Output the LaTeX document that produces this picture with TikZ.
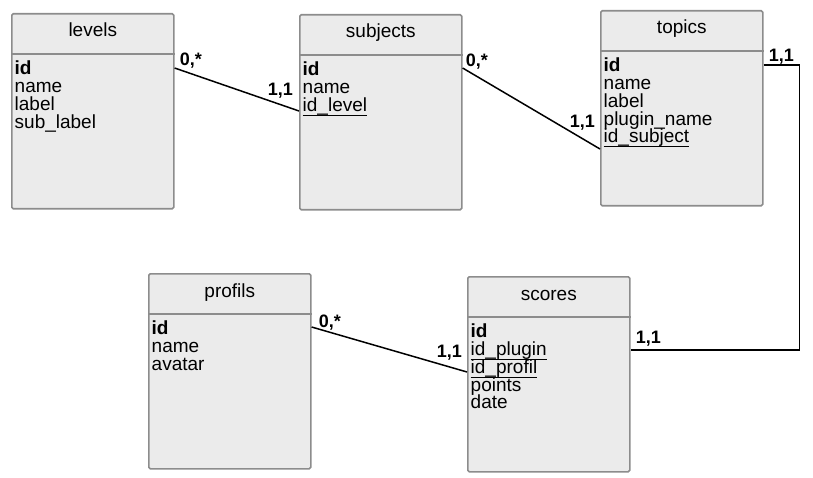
\documentclass[tikz,border=0pt]{standalone}
\usepackage{fontspec}
\setmainfont{Liberation Sans}
\usepackage{tikz}
\usetikzlibrary{calc}

\definecolor{boxfill}{HTML}{EBEBEB}
\definecolor{boxline}{HTML}{8C8C8C}

% underlined foreign key, rule just under the baseline
\newcommand{\fkey}[1]{\setbox0=\hbox{#1}\rlap{\rule[-4.2pt]{\wd0}{0.9pt}}\box0}
\setlength{\lineskiplimit}{-10pt}

\tikzset{
    entity/.style={draw=boxline, fill=boxfill, line width=1.6pt, rounded corners=1.5pt,
        minimum width=162pt, minimum height=195pt, anchor=north west, inner sep=0pt},
    title/.style={anchor=base, inner sep=0pt, font=\fontsize{19}{20}\selectfont},
    fields/.style={anchor=north west, align=left, inner sep=0pt,
        font=\fontsize{19}{17.7}\selectfont},
    divider/.style={draw=boxline, line width=1.6pt},
    card/.style={inner sep=0pt, font=\bfseries\fontsize{18}{18}\selectfont},
    link/.style={draw=black, line width=1.5pt}
}

\begin{document}
\begin{tikzpicture}[x=1pt, y=-1pt]
    \useasboundingbox (0,0) rectangle (813,478);

    % tables
    \node[entity] (levels) at (11,13) {};
    \node[entity] (subjects) at (299,14) {};
    \node[entity] (topics) at (600,10) {};
    \node[entity] (profils) at (148,273) {};
    \node[entity] (scores) at (467,276) {};

    \foreach \e in {levels,subjects,topics,profils,scores}
        \draw[divider] ($(\e.north west)+(0,41)$) -- ($(\e.north east)+(0,41)$);

    \node[title] (levels-t) at ($(levels.north)+(0,24)$) {levels};
    \node[title] (subjects-t) at ($(subjects.north)+(0,24)$) {subjects};
    \node[title] (topics-t) at ($(topics.north)+(0,24)$) {topics};
    \node[title] (profils-t) at ($(profils.north)+(0,24)$) {profils};
    \node[title] (scores-t) at ($(scores.north)+(0,24)$) {scores};

    \node[fields] (levels-f) at ($(levels.north west)+(3.5,48)$)
        {\textbf{id}\\name\\label\\sub\_label};
    \node[fields] (subjects-f) at ($(subjects.north west)+(3.5,48)$)
        {\textbf{id}\\name\\\fkey{id\_level}};
    \node[fields] (topics-f) at ($(topics.north west)+(3.5,48)$)
        {\textbf{id}\\name\\label\\plugin\_name\\\fkey{id\_subject}};
    \node[fields] (profils-f) at ($(profils.north west)+(3.5,48)$)
        {\textbf{id}\\name\\avatar};
    \node[fields] (scores-f) at ($(scores.north west)+(3.5,48)$)
        {\textbf{id}\\\fkey{id\_plugin}\\\fkey{id\_profil}\\points\\date};

    % link ends
    \coordinate (lv-e) at ($(levels.north east)+(0,55)$);
    \coordinate (sj-w) at ($(subjects.north west)+(0,97)$);
    \coordinate (sj-e) at ($(subjects.north east)+(0,54)$);
    \coordinate (tp-w) at ($(topics.north west)+(0,139)$);
    \coordinate (tp-e) at ($(topics.north east)+(0,55)$);
    \coordinate (sc-e) at ($(scores.north east)+(0,74)$);
    \coordinate (pf-e) at ($(profils.north east)+(0,54)$);
    \coordinate (sc-w) at ($(scores.north west)+(0,96)$);

    % links
    \draw[link] (lv-e) -- (sj-w);
    \draw[link] (sj-e) -- (tp-w);
    \draw[link] (tp-e) -- ++(36,0) |- (sc-e);
    \draw[link] (pf-e) -- (sc-w);

    % cardinalities
    \node[card, anchor=base west] (c1) at ($(lv-e)+(5,-2)$) {0,*};
    \node[card, anchor=base east] (c2) at ($(sj-w)+(-6,-15)$) {1,1};
    \node[card, anchor=base west] (c3) at ($(sj-e)+(3,-1)$) {0,*};
    \node[card, anchor=base east] (c4) at ($(tp-w)+(-5,-21)$) {1,1};
    \node[card, anchor=base west] (c5) at ($(tp-e)+(5,-3)$) {1,1};
    \node[card, anchor=base west] (c6) at ($(sc-e)+(5,-7)$) {1,1};
    \node[card, anchor=base west] (c7) at ($(pf-e)+(7,0)$) {0,*};
    \node[card, anchor=base east] (c8) at ($(sc-w)+(-5,-15)$) {1,1};
\end{tikzpicture}
\end{document}
